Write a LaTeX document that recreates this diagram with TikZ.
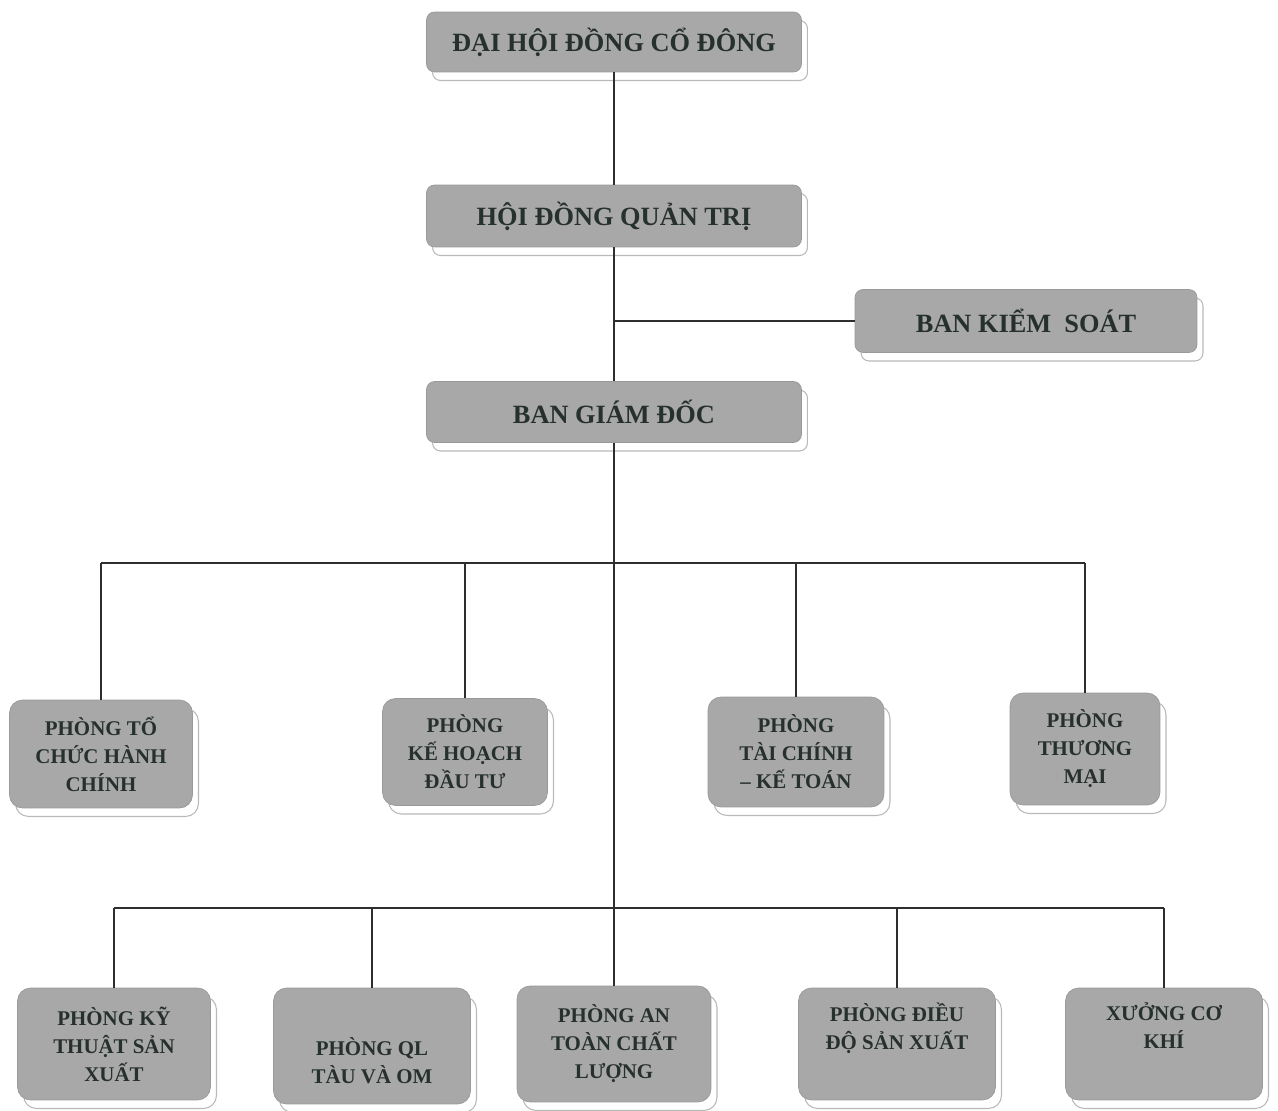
\documentclass[tikz,border=0pt]{standalone}
\usepackage{fontspec}
\setmainfont{Liberation Serif}
\usetikzlibrary{shadows}
\definecolor{boxgray}{HTML}{A8A8A8}
\definecolor{rimgray}{HTML}{999999}
\definecolor{txtdark}{HTML}{26302C}
\definecolor{linedark}{HTML}{2E2E2E}
\tikzset{
  unit/.style={fill=boxgray, draw=rimgray, line width=0.4pt, text=txtdark, align=center, inner sep=0pt,
    general shadow={fill=white, draw=gray!55, line width=0.6pt, shadow xshift=0.12cm, shadow yshift=-0.17cm}},
  bigunit/.style={unit, rounded corners=0.16cm, font=\bfseries\fontsize{15}{18}\selectfont},
  smallunit/.style={unit, rounded corners=0.26cm, font=\bfseries\fontsize{11.9}{15.9}\selectfont},
  link/.style={draw=linedark, line width=0.8pt}
}
\begin{document}
\begin{tikzpicture}[x=0.02cm,y=-0.02cm]
\useasboundingbox (0,0) rectangle (1278,1111);

% top of the chart
\node[bigunit, minimum width=7.5cm, minimum height=1.2cm] (dhdcd) at (614,42) {ĐẠI HỘI ĐỒNG CỔ ĐÔNG};
\node[bigunit, minimum width=7.5cm, minimum height=1.24cm] (hdqt) at (614,216) {HỘI ĐỒNG QUẢN TRỊ};
\node[bigunit, minimum width=6.84cm, minimum height=1.26cm] (bks) at (1026,321) {BAN KIỂM\ \ SOÁT};
\node[bigunit, minimum width=7.5cm, minimum height=1.22cm] (bgd) at (614,412) {BAN GIÁM ĐỐC};

% phong ban
\node[smallunit, minimum width=3.66cm, minimum height=2.16cm] (tcch) at (101,754) {PHÒNG TỔ\\CHỨC HÀNH\\CHÍNH};
\node[smallunit, minimum width=3.3cm, minimum height=2.14cm] (khdt) at (465,752) {PHÒNG\\KẾ HOẠCH\\ĐẦU TƯ};
\node[smallunit, minimum width=3.52cm, minimum height=2.2cm] (tckt) at (796,752) {PHÒNG\\TÀI CHÍNH\\– KẾ TOÁN};
\node[smallunit, minimum width=3.0cm, minimum height=2.24cm] (tm) at (1085,749) {PHÒNG\\THƯƠNG\\MẠI};

\node[smallunit, minimum width=3.86cm, minimum height=2.24cm] (ktsx) at (114,1044) {PHÒNG KỸ\\THUẬT SẢN\\XUẤT};
\node[smallunit, minimum width=3.94cm, minimum height=2.32cm] (qltau) at (372,1046) {\strut\\PHÒNG QL\\TÀU VÀ OM};
\node[smallunit, minimum width=3.88cm, minimum height=2.32cm] (atcl) at (614,1044) {PHÒNG AN\\TOÀN CHẤT\\LƯỢNG};
\node[smallunit, minimum width=3.94cm, minimum height=2.24cm] (ddsx) at (897,1044) {PHÒNG ĐIỀU\\ĐỘ SẢN XUẤT\\\strut};
\node[smallunit, minimum width=3.94cm, minimum height=2.24cm] (xck) at (1164,1044) {XƯỞNG CƠ\\KHÍ\\\strut};

\coordinate (jks) at (hdqt.south |- bks.west);
\coordinate (bus1) at (614,563);
\coordinate (bus2) at (614,908);

\draw[link] (dhdcd.south) -- (hdqt.north);
\draw[link] (hdqt.south) -- (bgd.north);
\draw[link] (jks) -- (bks.west);
\draw[link] (bgd.south) -- (atcl.north);

\draw[link] (tcch.north |- bus1) -- (tm.north |- bus1);
\foreach \p in {tcch,khdt,tckt,tm}
  \draw[link] (\p.north) -- (\p.north |- bus1);

\draw[link] (ktsx.north |- bus2) -- (xck.north |- bus2);
\foreach \p in {ktsx,qltau,ddsx,xck}
  \draw[link] (\p.north) -- (\p.north |- bus2);
\end{tikzpicture}
\end{document}
